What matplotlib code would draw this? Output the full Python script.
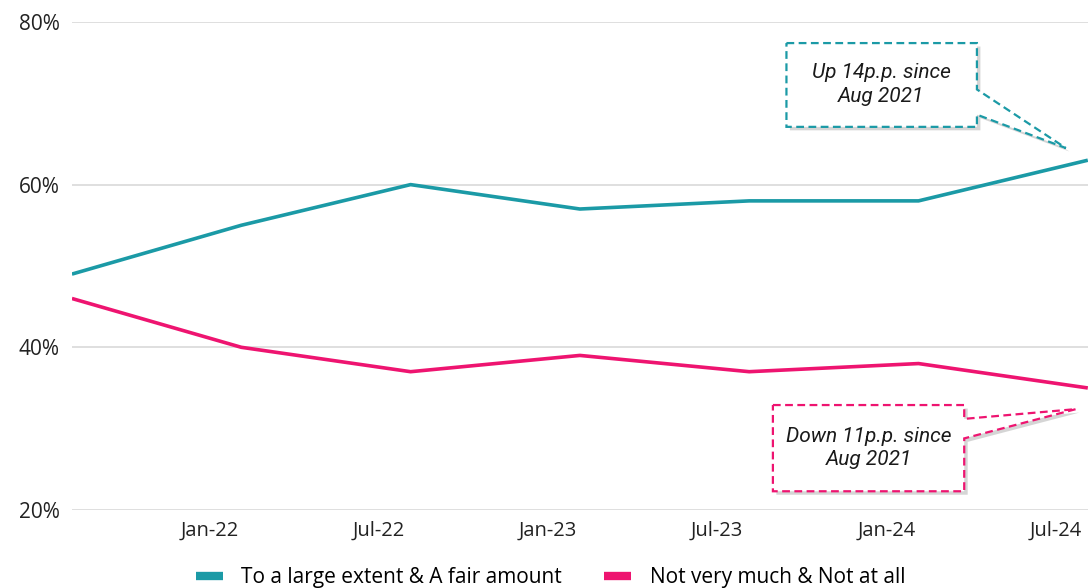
import numpy as np
import matplotlib
matplotlib.use("Agg")
import matplotlib.pyplot as plt
from matplotlib.patches import Polygon
from matplotlib.lines import Line2D
from matplotlib.transforms import ScaledTranslation
import matplotlib.patheffects as pe

# Datos
periodos = ["Aug-21", "Jan-22", "Jul-22", "Jan-23", "Jul-23", "Jan-24", "Jul-24"]
etiquetas_x = ["", "Jan-22", "Jul-22", "Jan-23", "Jul-23", "Jan-24", "Jul-24"]
acuerdo = [49, 55, 60, 57, 58, 58, 63]
desacuerdo = [46, 40, 37, 39, 37, 38, 35]
series_nombres = ["To a large extent & A fair amount", "Not very much & Not at all"]
nota_arriba = "Up 14p.p. since\nAug 2021"
nota_abajo = "Down 11p.p. since\nAug 2021"

TEAL = "#1B9AA6"
PINK = "#EE1470"
GRID = "#D9D9D9"


def callout(ax, box, base, tip, text, color, text_xy):
    """Dibuja un globo con borde discontinuo y pico hacia el punto."""
    x0, x1, y0, y1 = box
    b_hi, b_lo = base
    pts = [(x0, y1), (x1, y1), (x1, b_hi), tip, (x1, b_lo), (x1, y0), (x0, y0)]
    poly = Polygon(pts, closed=True, facecolor="white", edgecolor=color,
                   linestyle=(0, (3.5, 2)), linewidth=1.6, zorder=5, clip_on=False)
    poly.set_path_effects([pe.SimplePatchShadow(offset=(2.5, -2.5), alpha=0.22,
                                                shadow_rgbFace="#444444"),
                           pe.Normal()])
    ax.add_patch(poly)
    ax.text(text_xy[0], text_xy[1], text, ha="center", va="center",
            fontsize=15, style="italic", family="Roboto", color="#1a1a1a",
            linespacing=1.3, zorder=6)


fig = plt.figure(figsize=(10.9, 5.88), dpi=100)
ax = fig.add_axes([0.066, 0.1327, 0.932, 0.83])

x = np.arange(len(periodos))
ax.plot(x, acuerdo, color=TEAL, linewidth=2.6, solid_capstyle="butt", zorder=3)
ax.plot(x, desacuerdo, color=PINK, linewidth=2.6, solid_capstyle="butt", zorder=3)

ax.set_xlim(0, len(periodos) - 1)
ax.set_ylim(20, 80)
ax.set_yticks([20, 40, 60, 80])
ax.set_yticklabels([f"{v}%" for v in [20, 40, 60, 80]], family="Open Sans",
                   fontsize=15, color="#222222")
ax.set_xticks(x)
ax.set_xticklabels(etiquetas_x, family="Open Sans", fontsize=14.5, color="#222222",
                   ha="center")
ax.tick_params(axis="both", length=0)
ax.tick_params(axis="y", pad=9)
ax.tick_params(axis="x", pad=8)
# las etiquetas del eje x van algo desplazadas a la izquierda del punto
for lbl in ax.get_xticklabels():
    lbl.set_transform(lbl.get_transform() + ScaledTranslation(-0.32, 0, fig.dpi_scale_trans))

ax.grid(axis="y", color=GRID, linewidth=1.2)
ax.set_axisbelow(True)
for s in ax.spines.values():
    s.set_visible(False)

# Globos de anotación
ult = len(periodos) - 1
callout(ax, (4.22, 5.345, 67.1, 77.4), (71.7, 68.6),
        (ult - 0.13, acuerdo[-1] + 1.5), nota_arriba, TEAL, (4.78, 72.3))
callout(ax, (4.14, 5.27, 22.3, 32.9), (31.2, 28.8),
        (ult - 0.07, desacuerdo[-1] - 2.6), nota_abajo, PINK, (4.705, 27.6))

handles = [Line2D([0], [0], color=TEAL, linewidth=6, solid_capstyle="butt"),
           Line2D([0], [0], color=PINK, linewidth=6, solid_capstyle="butt")]
fig.legend(handles, series_nombres, loc="center", bbox_to_anchor=(0.505, 0.018),
           ncol=2, frameon=False, handlelength=1.3, handletextpad=0.9,
           columnspacing=2.0, prop={"family": "Open Sans", "size": 15})

fig.savefig("out.png", dpi=100)
